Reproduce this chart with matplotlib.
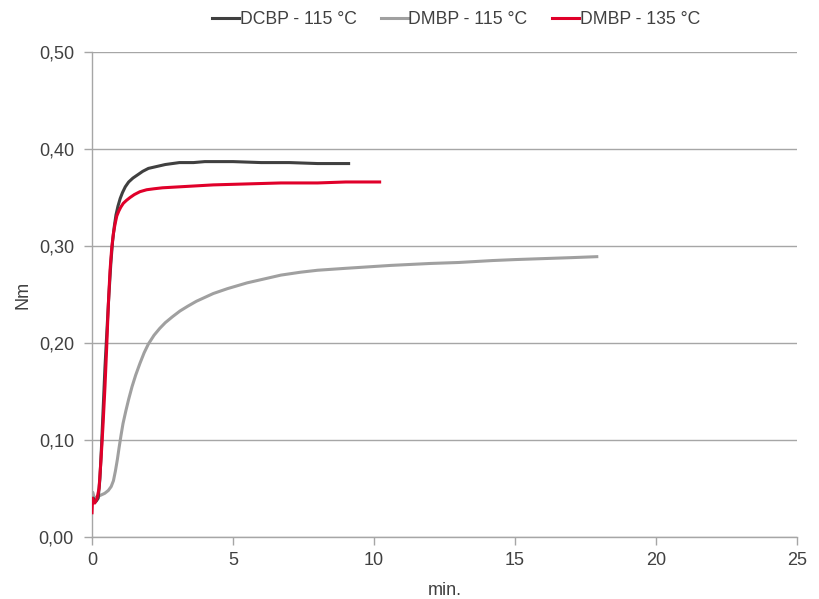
import matplotlib
matplotlib.use("Agg")
import matplotlib.pyplot as plt
from matplotlib.ticker import FuncFormatter

plt.rcParams['font.family'] = ['Liberation Sans', 'DejaVu Sans']

# DCBP - 115 °C
t_dcbp = [0.0, 0.05, 0.1, 0.15, 0.22, 0.28, 0.34, 0.4, 0.46, 0.53, 0.6, 0.67, 0.73, 0.79, 0.85, 0.92, 1.0,
          1.08, 1.18, 1.3, 1.45, 1.6, 1.8, 2.0, 2.3, 2.6, 3.1, 3.6, 4.0, 5.0, 6.0, 7.0, 8.0, 9.1]
y_dcbp = [0.035, 0.04, 0.036, 0.037, 0.04, 0.06, 0.095, 0.135, 0.175, 0.213, 0.25, 0.283, 0.305, 0.32, 0.332, 0.341, 0.349,
          0.355, 0.361, 0.366, 0.37, 0.373, 0.377, 0.38, 0.382, 0.384, 0.386, 0.386, 0.387, 0.387, 0.386, 0.386, 0.385, 0.385]

# DMBP - 115 °C
t_dmbp115 = [0.0, 0.03, 0.08, 0.15, 0.3, 0.45, 0.58, 0.68, 0.76, 0.83, 0.9, 0.96, 1.03, 1.1, 1.2, 1.3, 1.42, 1.55,
             1.7, 1.85, 2.0, 2.2, 2.4, 2.6, 2.85, 3.12, 3.4, 3.7, 4.0, 4.3, 4.8, 5.5, 6.1, 6.7, 7.4, 8.0, 9.0,
             10.6, 12.0, 13.0, 14.2, 15.0, 16.0, 17.0, 17.9]
y_dmbp115 = [0.045, 0.046, 0.04, 0.041, 0.043, 0.045, 0.048, 0.052, 0.058, 0.068, 0.08, 0.092, 0.105, 0.117, 0.13, 0.142, 0.155, 0.167,
             0.179, 0.19, 0.199, 0.208, 0.215, 0.221, 0.227, 0.233, 0.238, 0.243, 0.247, 0.251, 0.256, 0.262, 0.266, 0.27, 0.273, 0.275, 0.277,
             0.28, 0.282, 0.283, 0.285, 0.286, 0.287, 0.288, 0.289]

# DMBP - 135 °C
t_dmbp135 = [0.0, 0.02, 0.05, 0.1, 0.18, 0.25, 0.32, 0.39, 0.46, 0.52, 0.58, 0.64, 0.7, 0.76, 0.82, 0.88, 0.95, 1.02,
             1.11, 1.22, 1.35, 1.5, 1.7, 1.94, 2.2, 2.5, 3.1, 3.7, 4.3, 5.5, 6.7, 8.0, 9.0, 10.2]
y_dmbp135 = [0.025, 0.04, 0.036, 0.035, 0.04, 0.05, 0.08, 0.115, 0.155, 0.195, 0.24, 0.275, 0.298, 0.313, 0.323, 0.331, 0.336, 0.34,
             0.344, 0.347, 0.35, 0.353, 0.356, 0.358, 0.359, 0.36, 0.361, 0.362, 0.363, 0.364, 0.365, 0.365, 0.366, 0.366]

x_ticks = [0, 5, 10, 15, 20, 25]
y_ticks = [0.0, 0.1, 0.2, 0.3, 0.4, 0.5]

fig = plt.figure(figsize=(8.19, 5.99), dpi=100)
ax = fig.add_axes([92/819, 1 - 537/599, (797 - 92)/819, (537 - 52)/599])

ax.plot(t_dcbp, y_dcbp, color='#404040', lw=2.2, label='DCBP - 115 °C', zorder=3)
ax.plot(t_dmbp115, y_dmbp115, color='#a0a0a0', lw=2.2, label='DMBP - 115 °C', zorder=2)
ax.plot(t_dmbp135, y_dmbp135, color='#e0002a', lw=2.2, label='DMBP - 135 °C', zorder=4)

ax.set_xlim(0, 25)
ax.set_ylim(0, 0.5)
ax.set_xticks(x_ticks)
ax.set_yticks(y_ticks)
ax.yaxis.set_major_formatter(FuncFormatter(lambda v, p: f"{v:.2f}".replace('.', ',')))
ax.grid(axis='y', color='#a6a6a6', lw=1)
ax.set_axisbelow(True)
for s in ['top', 'right']:
    ax.spines[s].set_visible(False)
for s in ['left', 'bottom']:
    ax.spines[s].set_color('#a6a6a6')
    ax.spines[s].set_linewidth(1)
ax.tick_params(axis='both', colors='#a6a6a6', labelcolor='#404040', labelsize=13, length=6, width=1)
ax.tick_params(axis='y', pad=7)
ax.tick_params(axis='x', pad=5)
ax.set_xlabel('min.', fontsize=13, color='#404040', labelpad=9)
ax.set_ylabel('Nm', fontsize=13, color='#404040', labelpad=5)

leg = ax.legend(loc='center', bbox_to_anchor=(456/819, 1 - 20/599), bbox_transform=fig.transFigure,
                ncol=3, frameon=False,
                fontsize=12.7, handlelength=1.5, handletextpad=0.05, columnspacing=1.4,
                borderaxespad=0.0, borderpad=0.0)
for txt in leg.get_texts():
    txt.set_color('#404040')

fig.savefig('out.png', dpi=100)
